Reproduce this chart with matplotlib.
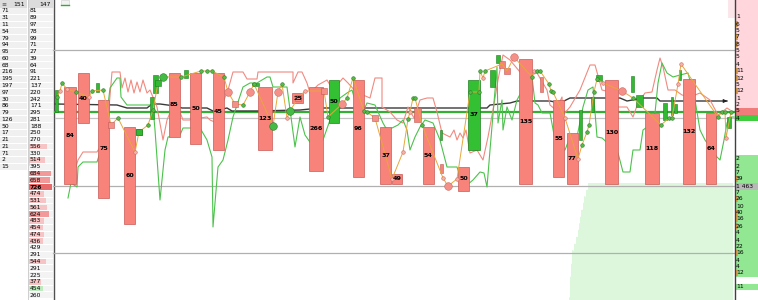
import matplotlib
matplotlib.use('Agg')
import matplotlib.pyplot as plt
from matplotlib.patches import Rectangle, Polygon

# ladder columns on the left
col1_vals = [71, 31, 11, 54, 79, 94, 95, 60, 68, 216, 195, 197, 97, 30, 86, 79, 126, 50, 17, 21, 21, 71, 2, 15]
col2_vals = [81, 89, 97, 78, 99, 71, 27, 39, 64, 91, 221, 137, 220, 242, 171, 295, 281, 188, 250, 270,
             556, 330, 514, 395, 684, 658, 726, 474, 531, 561, 624, 483, 454, 474, 436, 429, 291, 544, 291, 225,
             377, 454, 260]
col2_side = ['', '', '', '', '', '', '', '', '', '', '', '', '', '', '', '', '', '', '', '',
             'r', '', 'r', '', 'r', 'r', 'r', 'r', 'r', 'r', 'r', 'r', 'r', 'r', 'r', '', '', 'r', '', '',
             'r', 'g', '']

# volume boxes: time start, time end, top level, bottom level, volume
box_t0 = [64, 78, 98, 124, 169, 190, 213, 258, 292, 309, 329, 353, 380, 392, 423, 458, 468, 519, 553, 567, 605, 645, 683, 706]
box_t1 = [76, 89, 109, 135, 180, 201, 224, 272, 303, 323, 339, 364, 391, 402, 434, 469, 480, 532, 564, 578, 618, 659, 695, 716]
box_top = [87, 73, 100, 127, 73, 73, 73, 87, 93, 87, 80, 80, 127, 174, 127, 167, 80, 59, 100, 133, 80, 113, 79, 113]
box_bot = [184, 123, 198, 224, 137, 144, 150, 150, 103, 171, 123, 177, 184, 184, 184, 191, 150, 184, 177, 184, 184, 184, 184, 184]
box_vol = [84, 40, 75, 60, 85, 50, 45, 123, 25, 266, 50, 96, 37, 49, 54, 50, 37, 135, 55, 77, 130, 118, 132, 64]
box_buy = [False] * 10 + [True] + [False] * 5 + [True] + [False] * 7

# small candles
cdl_t0 = [55, 96, 136, 150, 153, 184, 252, 440, 490, 496, 579, 591, 596, 631, 636, 663, 671, 674, 679, 727]
cdl_t1 = [58, 99, 142, 154, 158, 188, 259, 442, 495, 500, 582, 594, 602, 634, 643, 667, 673, 677, 681, 731]
cdl_top = [90, 83, 129, 97, 75, 70, 83, 130, 70, 55, 110, 97, 75, 76, 95, 103, 97, 104, 70, 117]
cdl_bot = [112, 92, 135, 119, 93, 78, 86, 140, 87, 63, 140, 112, 81, 92, 107, 120, 115, 113, 80, 128]
red_t0 = [414, 440, 540, 499, 504]
red_t1 = [421, 443, 543, 505, 510]
red_top = [108, 164, 77, 61, 68]
red_bot = [122, 173, 92, 68, 74]

# trade path
path_t = [57, 60, 62, 67, 76, 89, 92, 103, 111, 118, 135, 139, 148, 153, 158, 163, 181, 201, 207, 212, 224, 228, 235, 243,
          250, 254, 273, 278, 282, 287, 290, 298, 305, 324, 328, 342, 347, 353, 364, 367, 375, 392, 403, 408, 410, 413,
          415, 422, 443, 448, 457, 470, 479, 480, 483, 485, 502, 507, 514, 532, 534, 537, 540, 549, 551, 553, 565, 578,
          582, 587, 589, 594, 597, 603, 622, 633, 661, 669, 672, 678, 681, 718, 722, 725, 726, 731]
path_p = [97, 91, 83, 89, 92, 97, 91, 90, 125, 118, 152, 132, 125, 110, 83, 77, 77, 71, 71, 71, 77, 92, 104, 105,
          92, 84, 126, 92, 84, 118, 111, 98, 91, 91, 117, 104, 98, 78, 111, 112, 118, 179, 152, 119, 112, 98,
          98, 125, 178, 186, 179, 92, 92, 71, 78, 71, 64, 71, 57, 77, 71, 71, 71, 84, 91, 92, 118, 159,
          145, 132, 125, 92, 79, 83, 91, 98, 125, 118, 118, 84, 64, 117, 112, 112, 138, 112]
path_kind = ['g', 'r', 'g', 'r', 'g', 'r', 'g', 'g', 's', 'g', 'r', 'q', 'g', 'g', 'q', 'G', 'g', 'g', 'g', 'g', 'g', 'R', 's', 'g',
             'R', 'g', 'G', 'R', 'g', 'r', 'G', 's', 'r', 's', 'g', 'R', 'g', 'g', 'g', 'g', 's', 'r', 'r', 'g', 'r', 'g',
             'g', 'g', 'r', 'R', 'r', 'g', 'g', 'g', 'r', 'g', '', '', 'R', 'g', 'r', 'g', 'g', 'g', 'g', 'g', 'r', 'r',
             'g', 'g', 'g', 'g', 'g', 'r', 'R', 'g', 'g', 'g', 'g', 'r', 'r', 'g', 'g', 'g', 'r', 'g']

# upper (pink) and lower (green) envelopes
hi_t = [75, 78, 83, 97, 104, 108, 112, 120, 122, 125, 128, 131, 134, 137, 140, 143, 147, 150, 157, 163, 167, 172, 178, 183,
        190, 195, 200, 207, 210, 217, 222, 228, 233, 243, 247, 257, 258, 293, 293, 298, 302, 307, 310, 318, 327, 333, 343,
        348, 357, 363, 370, 375, 382, 382, 390, 397, 403, 408, 414, 420, 427, 433, 437, 442, 450, 454, 457, 460, 463, 466,
        470, 477, 483, 488, 493, 498, 503, 510, 520, 528, 537, 547, 550, 556, 562, 563, 570, 580, 590, 595, 602, 610, 617,
        627, 633, 638, 645, 652, 657, 660, 663, 668, 675, 682, 690, 700, 710, 718, 722, 727, 730]
hi_p = [170, 160, 152, 152, 140, 120, 72, 72, 88, 78, 92, 80, 93, 82, 92, 80, 93, 90, 107, 140, 120, 108, 107, 120,
        120, 112, 118, 117, 120, 123, 105, 90, 72, 72, 79, 79, 72, 72, 83, 72, 72, 83, 93, 85, 80, 90, 78,
        83, 93, 95, 98, 78, 78, 107, 112, 120, 123, 107, 118, 100, 98, 98, 112, 133, 137, 130, 140, 133, 138, 130,
        153, 150, 160, 137, 110, 80, 55, 60, 72, 76, 73, 90, 105, 110, 97, 115, 107, 90, 65, 65, 90, 92, 107,
        107, 117, 103, 93, 92, 70, 58, 67, 90, 90, 95, 97, 93, 100, 115, 112, 108, 110]
lo_t = [68, 71, 77, 78, 83, 97, 104, 110, 117, 120, 121, 127, 150, 153, 155, 160, 165, 168, 180, 183, 200, 207, 212, 213,
        218, 223, 228, 233, 243, 250, 257, 267, 270, 273, 287, 295, 300, 305, 312, 318, 323, 330, 340, 347, 352, 358, 363,
        367, 375, 383, 387, 392, 398, 403, 407, 410, 415, 420, 425, 433, 440, 447, 457, 462, 467, 473, 480, 484, 487, 490,
        497, 498, 502, 503, 507, 512, 517, 525, 532, 535, 538, 542, 550, 555, 560, 565, 570, 577, 583, 588, 593, 597, 602,
        610, 618, 623, 630, 633, 640, 643, 650, 655, 658, 662, 667, 673, 680, 688, 695, 700, 705, 712, 717, 720, 724, 727,
        730, 734]
lo_p = [198, 183, 187, 167, 162, 162, 140, 88, 78, 78, 97, 105, 105, 107, 130, 200, 150, 137, 135, 128, 128, 140, 157, 227,
        167, 160, 140, 117, 87, 83, 83, 77, 77, 87, 87, 147, 117, 135, 145, 148, 140, 120, 98, 93, 90, 110, 112,
        103, 105, 123, 130, 128, 125, 120, 130, 150, 137, 127, 120, 123, 140, 167, 167, 183, 185, 180, 172, 173, 187, 150,
        67, 123, 100, 130, 107, 120, 100, 85, 77, 103, 105, 113, 113, 140, 150, 150, 137, 137, 107, 90, 87, 137, 138,
        145, 153, 172, 172, 150, 150, 130, 125, 113, 83, 63, 73, 77, 75, 73, 100, 130, 140, 150, 157, 160, 140, 123,
        117, 117]

# running average line
avg_t = [55, 117, 127, 147, 152, 160, 175, 182, 207, 213, 227, 232, 257, 300, 320, 467, 487, 490, 510, 517, 550, 560, 570,
         620, 627, 643, 657, 660, 683, 727]
avg_p = [104, 105, 108, 108, 104, 104, 106, 108, 108, 111, 108, 111, 111, 110, 108, 108, 108, 105, 103, 101, 101, 103, 98,
         98, 101, 98, 98, 101, 101, 101]

# profile in lower right
prof_lvl = [183, 190, 196, 203, 210, 217, 223, 230, 237, 244, 250, 257, 264, 270, 277, 284, 291, 297]
prof_left = [588, 586, 584, 583, 581, 580, 579, 578, 576, 574, 572, 572, 571, 571, 570, 570, 570, 569]

# right ladder
ask_lvl = [17, 24, 30, 37, 44, 50, 57, 64, 71, 78, 84, 91, 98, 104, 111]
ask_vol = ['1', '6', '5', '7', '8', '5', '5', '4', '11', '12', '5', '12', '1', '2', '5']
ask_hot = [0, 1, 0, 1, 1, 0, 0, 0, 1, 1, 0, 1, 0, 0, 0]
bid_lvl = [118, 159, 166, 172, 179, 186, 193, 199, 206, 213, 219, 226, 233, 240, 246, 253, 260, 267, 273, 287]
bid_vol = ['4', '2', '2', '7', '39', '1 463', '7', '26', '10', '40', '16', '26', '4', '4', '22', '16', '4', '4', '12', '11']
bid_hot = [0, 0, 0, 0, 1, 0, 0, 1, 0, 1, 1, 1, 0, 0, 0, 1, 0, 0, 1, 0]

fig = plt.figure(figsize=(7.58, 3.0), dpi=100)
ax = fig.add_axes([0, 0, 1, 1])
ax.set_xlim(0, 758)
ax.set_ylim(300, 0)
ax.axis('off')

fs = 4.3
row_h = 6.77
# left ladder
ax.add_patch(Rectangle((0, 0), 27, 8, fc='#dcdcdc', ec='none'))
ax.add_patch(Rectangle((28, 0), 25, 8, fc='#dcdcdc', ec='none'))
ax.text(1, 4, '≡', fontsize=fs, va='center', color='#555555')
ax.text(25, 4, '151', fontsize=fs, va='center', ha='right')
ax.text(51, 4, '147', fontsize=fs, va='center', ha='right')
for i, v in enumerate(col1_vals):
    y = 11 + i * row_h
    ax.add_patch(Rectangle((0, y - row_h / 2 + 0.5), 27, row_h - 1, fc='#f0f0f0', ec='none'))
    ax.text(1.5, y, str(v), fontsize=fs, va='center')
for i, v in enumerate(col2_vals):
    y = 11 + i * row_h
    ax.add_patch(Rectangle((28, y - row_h / 2 + 0.5), 25, row_h - 1, fc='#f3f3f3', ec='none'))
    if col2_side[i]:
        if col2_side[i] == 'g':
            c = '#bfeabf'
        elif v >= 700:
            c = '#e86a6a'
        elif v >= 600:
            c = '#f29a9a'
        else:
            c = '#f6c4c4'
        ax.add_patch(Rectangle((29, y - row_h / 2 + 0.6), v / 726 * 23, row_h - 1.2, fc=c, ec='none'))
    ax.text(30, y, str(v), fontsize=fs, va='center', fontweight='bold' if v == 726 else 'normal')
ax.axvline(27.5, color='#c8c8c8', lw=0.6)
ax.axvline(29, color='#f0c0c0', lw=0.5, ymin=0.45, ymax=0.97)
ax.axvline(53.5, color='#505050', lw=1.0)

# grid lines
for lvl in [50, 186, 253]:
    ax.plot([53, 735], [lvl, lvl], color='#b0b0b0', lw=0.9)
ax.add_patch(Rectangle((61, 0), 8, 5, fc='#f2f2f2', ec='#cccccc', lw=0.4))
ax.plot([61, 69], [5, 5], color='#33aa33', lw=1)

# profile area
pts = [(733, prof_lvl[0])]
for lv, lf in zip(prof_lvl, prof_left):
    pts.append((lf, lv))
    pts.append((lf, lv + 6.7))
pts.append((733, 300))
ax.add_patch(Polygon(pts, closed=True, fc='#dcf7dc', ec='none'))
ax.add_patch(Rectangle((728, 0), 7, 18, fc='#fde6ea', ec='none'))

ax.plot([55, 735], [112, 112], color='#33b033', lw=1.6)
ax.plot([55, 735], [118, 118], color='#c4c4c4', lw=0.9)
ax.plot(avg_t, avg_p, color='#3a3a3a', lw=1.0)
ax.annotate('', xy=(730, 101), xytext=(722, 101),
            arrowprops=dict(arrowstyle='-|>', color='#222222', lw=0.8, mutation_scale=5))
ax.plot(hi_t, hi_p, color='#f08a80', lw=0.8)
ax.plot(lo_t, lo_p, color='#4cc24c', lw=0.8)

for t0, t1, tp, bt, v, buy in zip(box_t0, box_t1, box_top, box_bot, box_vol, box_buy):
    fc = '#33c033' if buy else '#f8837a'
    ec = '#208020' if buy else '#c85a55'
    ax.add_patch(Rectangle((t0, tp), t1 - t0, bt - tp, fc=fc, ec=ec, lw=0.5, zorder=3))
    ax.text((t0 + t1) / 2, (tp + bt) / 2, str(v), fontsize=4.6, fontweight='bold',
            ha='center', va='center', zorder=6)

for t0, t1, tp, bt in zip(cdl_t0, cdl_t1, cdl_top, cdl_bot):
    ax.add_patch(Rectangle((t0, tp), t1 - t0, bt - tp, fc='#33b833', ec='#1f7a1f', lw=0.4, zorder=4))
for t0, t1, tp, bt in zip(red_t0, red_t1, red_top, red_bot):
    ax.add_patch(Rectangle((t0, tp), t1 - t0, bt - tp, fc='#f4837a', ec='#c05a55', lw=0.4, zorder=4))

ax.plot(path_t, path_p, color='#e8a73a', lw=0.7, zorder=4)
styles = {
    'g': dict(marker='o', ms=2.6, mfc='#55bb44', mec='#2a7a2a'),
    'r': dict(marker='o', ms=2.6, mfc='#f6b0a8', mec='#d06a60'),
    'G': dict(marker='o', ms=5.5, mfc='#44bb44', mec='#2a7a2a'),
    'R': dict(marker='o', ms=5.5, mfc='#f49088', mec='#cc6a60'),
    's': dict(marker='s', ms=4.2, mfc='#f49088', mec='#c05a55'),
    'q': dict(marker='s', ms=4.2, mfc='#33b833', mec='#1f7a1f'),
}
for t, p, k in zip(path_t, path_p, path_kind):
    if k:
        ax.plot([t], [p], ls='none', mew=0.4, zorder=5, **styles[k])

# right ladder
ax.axvline(734.5, color='#404040', lw=1.0)
ax.add_patch(Rectangle((735, 0), 23, 108, fc='#ffd6dc', ec='none'))
ax.add_patch(Rectangle((735, 108), 23, 6.5, fc='#f07c7c', ec='none'))
ax.add_patch(Rectangle((735, 114.5), 23, 6.5, fc='#3fcc3f', ec='none'))
ax.add_patch(Rectangle((735, 155), 23, 122, fc='#92e892', ec='none'))
ax.add_patch(Rectangle((735, 284), 23, 6, fc='#92e892', ec='none'))
ax.add_patch(Rectangle((735, 183), 23, 6.5, fc='#b8b8b8', ec='none'))
for lv, v, h in zip(ask_lvl, ask_vol, ask_hot):
    if h:
        ax.add_patch(Rectangle((735, lv - 3), 3, 6, fc='#e8a040', ec='none'))
    ax.text(736, lv, v, fontsize=fs, va='center')
for lv, v, h in zip(bid_lvl, bid_vol, bid_hot):
    if h:
        ax.add_patch(Rectangle((735, lv - 3), 3, 6, fc='#e8a040', ec='none'))
    ax.text(736, lv, v, fontsize=fs, va='center')

fig.savefig('out.png', dpi=100)
